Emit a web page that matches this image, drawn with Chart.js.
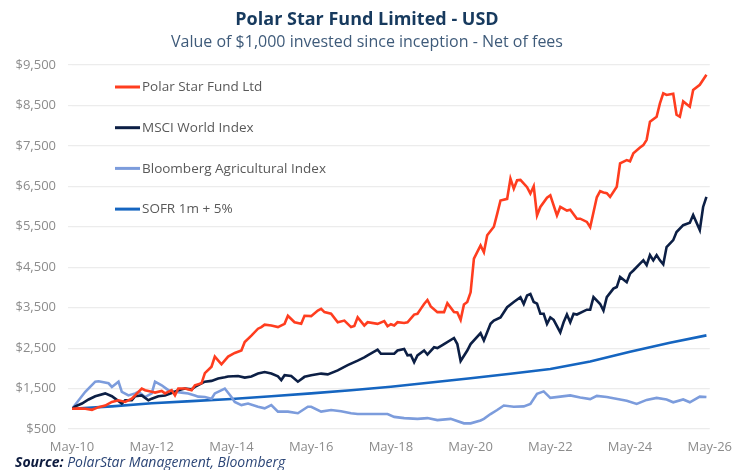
<!DOCTYPE html>
<html lang="en">
<head>
  <meta charset="UTF-8">
  <title>Polar Star Fund Limited - USD</title>
  <script src="https://cdn.jsdelivr.net/npm/chart.js"></script>
  <style>
    html, body { margin: 0; padding: 0; background: #fff; }
    #wrap { width: 742px; height: 470px; position: relative; }
  </style>
</head>
<body>
  <div id="wrap">
    <canvas id="fundChart" width="742" height="470"></canvas>
  </div>

  <script>
    // x axis: months since May-10, labels every 2 years
    const tickLabels = ['May-10', 'May-12', 'May-14', 'May-16', 'May-18', 'May-20', 'May-22', 'May-24', 'May-26'];

    const polarMonths = [0, 2, 4, 6, 8, 10, 12, 14, 16, 18, 19, 21, 22, 24, 25, 27, 28, 30, 31, 32, 34, 36, 37, 39, 40, 42, 43, 45, 47, 49, 51, 52, 54, 56, 57, 58, 60, 62, 64, 65, 67, 69, 70, 72, 74, 75, 76, 78, 80, 82, 84, 85, 86, 88, 89, 92, 94, 95, 96, 97, 98, 100, 101, 103, 104, 105, 106, 107, 108, 110, 112, 113, 115, 116, 117, 118, 119, 120, 121, 123, 124, 125, 127, 128, 129, 131, 132, 133, 134, 135, 137, 138, 139, 140, 141, 143, 144, 146, 147, 149, 150, 152, 153, 155, 156, 158, 159, 160, 161, 162, 164, 165, 167, 168, 169, 171, 172, 173, 174, 176, 177, 178, 179, 181, 182, 183, 184, 186, 187, 189, 191];
    const polarValues = [1000, 1010, 1000, 975, 1040, 1080, 1170, 1210, 1170, 1250, 1330, 1500, 1460, 1420, 1400, 1440, 1380, 1460, 1330, 1500, 1500, 1460, 1580, 1630, 1880, 2040, 2290, 2100, 2290, 2380, 2440, 2650, 2810, 2980, 3020, 3080, 3060, 3020, 3100, 3300, 3140, 3100, 3300, 3290, 3430, 3470, 3390, 3350, 3140, 3180, 3020, 3050, 3260, 3060, 3140, 3100, 3170, 3040, 3090, 3060, 3140, 3120, 3140, 3330, 3350, 3470, 3590, 3690, 3530, 3390, 3390, 3610, 3390, 3380, 3200, 3580, 3640, 3880, 4710, 5040, 4870, 5290, 5500, 5820, 6150, 6190, 6690, 6440, 6650, 6660, 6480, 6320, 6500, 5780, 5990, 6220, 6280, 5780, 5990, 5900, 5920, 5700, 5700, 5620, 5490, 6230, 6380, 6350, 6330, 6240, 6490, 7070, 7150, 7120, 7320, 7460, 7520, 7650, 8100, 8220, 8550, 8800, 8760, 8790, 8270, 8220, 8600, 8470, 8880, 9010, 9260];

    const msciMonths = [0, 1, 3, 5, 7, 10, 12, 13, 15, 16, 18, 19, 21, 23, 24, 26, 28, 31, 32, 34, 36, 37, 39, 40, 42, 44, 46, 47, 50, 52, 54, 56, 58, 60, 62, 63, 64, 66, 68, 70, 72, 75, 77, 80, 83, 86, 88, 89, 92, 93, 95, 97, 98, 100, 101, 102, 103, 104, 106, 107, 109, 110, 112, 115, 116, 117, 119, 120, 123, 124, 126, 127, 129, 131, 133, 135, 136, 137, 138, 139, 140, 141, 142, 143, 144, 145, 147, 148, 149, 150, 151, 152, 155, 156, 157, 159, 160, 161, 163, 164, 165, 167, 168, 169, 171, 172, 173, 174, 175, 176, 177, 178, 179, 181, 182, 184, 186, 187, 189, 190, 191];
    const msciValues = [1000, 1060, 1130, 1230, 1310, 1380, 1310, 1250, 1130, 1210, 1210, 1310, 1330, 1210, 1250, 1310, 1330, 1420, 1460, 1500, 1480, 1540, 1630, 1670, 1690, 1750, 1780, 1800, 1810, 1770, 1800, 1870, 1910, 1870, 1800, 1710, 1830, 1810, 1670, 1790, 1830, 1870, 1850, 1950, 2080, 2190, 2270, 2320, 2460, 2360, 2360, 2360, 2440, 2480, 2320, 2330, 2150, 2320, 2440, 2340, 2520, 2500, 2600, 2750, 2600, 2180, 2440, 2600, 2870, 2690, 3100, 3180, 3260, 3510, 3640, 3760, 3590, 3800, 3840, 3640, 3600, 3350, 3350, 3100, 3260, 3200, 2890, 3140, 3330, 3140, 3350, 3330, 3450, 3450, 3760, 3590, 3430, 3760, 3970, 4010, 4260, 4130, 4340, 4420, 4590, 4670, 4550, 4800, 4670, 4800, 4670, 4570, 5000, 5170, 5370, 5540, 5600, 5790, 5420, 5990, 6240];

    const bbgMonths = [0, 4, 7, 8, 11, 12, 14, 15, 17, 19, 20, 22, 24, 25, 27, 29, 31, 33, 35, 37, 38, 40, 42, 43, 46, 48, 49, 51, 53, 56, 58, 60, 62, 65, 68, 71, 72, 75, 78, 81, 84, 86, 92, 95, 97, 100, 104, 107, 110, 114, 118, 120, 123, 124, 126, 128, 130, 133, 136, 138, 140, 142, 144, 147, 150, 153, 156, 158, 161, 163, 167, 170, 173, 176, 179, 181, 184, 186, 189, 191];
    const bbgValues = [1000, 1420, 1670, 1680, 1630, 1540, 1670, 1420, 1330, 1380, 1420, 1290, 1380, 1670, 1580, 1460, 1420, 1400, 1380, 1330, 1300, 1290, 1250, 1380, 1500, 1290, 1170, 1090, 1130, 1050, 1010, 1090, 930, 930, 890, 1050, 1050, 930, 970, 940, 890, 870, 870, 870, 800, 770, 750, 770, 720, 750, 640, 640, 710, 750, 870, 970, 1080, 1050, 1060, 1120, 1370, 1430, 1270, 1300, 1330, 1280, 1240, 1320, 1290, 1260, 1200, 1120, 1220, 1270, 1230, 1160, 1230, 1160, 1300, 1290];

    const sofrMonths = [0, 12, 24, 36, 48, 60, 72, 84, 96, 108, 120, 132, 144, 156, 168, 180, 191];
    const sofrValues = [1000, 1060, 1135, 1190, 1240, 1310, 1380, 1460, 1545, 1650, 1755, 1865, 1985, 2170, 2410, 2630, 2815];

    const toPoints = (months, values) => months.map((m, i) => ({ x: m, y: values[i] }));

    const FONT = "'Open Sans', sans-serif";

    // legend drawn inside the plot + title/subtitle/source text
    const decorations = {
      id: 'decorations',
      afterDraw(chart) {
        const ctx = chart.ctx;
        const area = chart.chartArea;
        ctx.save();

        // legend
        ctx.textBaseline = 'middle';
        ctx.textAlign = 'left';
        ctx.font = '13.5px ' + FONT;
        chart.data.datasets.forEach((ds, i) => {
          const y = area.top + 22 + i * 40.7;
          ctx.strokeStyle = ds.borderColor;
          ctx.lineWidth = 3;
          ctx.beginPath();
          ctx.moveTo(115, y);
          ctx.lineTo(140, y);
          ctx.stroke();
          ctx.fillStyle = '#595959';
          ctx.fillText(ds.label, 142, y + 0.5);
        });

        // title + subtitle
        ctx.textAlign = 'center';
        ctx.fillStyle = '#173a5e';
        ctx.font = 'bold 18px ' + FONT;
        ctx.fillText('Polar Star Fund Limited - USD', 367, 20);
        ctx.fillStyle = '#3f5b7a';
        ctx.font = '16px ' + FONT;
        ctx.fillText('Value of $1,000 invested since inception - Net of fees', 367, 42);

        // source
        ctx.textAlign = 'left';
        ctx.fillStyle = '#0d1b3e';
        ctx.font = 'italic bold 14px ' + FONT;
        ctx.fillText('Source:', 15, 463);
        const w = ctx.measureText('Source: ').width;
        ctx.fillStyle = '#2c4677';
        ctx.font = 'italic 14px ' + FONT;
        ctx.fillText('PolarStar Management, Bloomberg', 15 + w, 463);

        ctx.restore();
      }
    };

    const ctxFund = document.getElementById('fundChart').getContext('2d');

    const fundChart = new Chart(ctxFund, {
      type: 'line',
      data: {
        datasets: [
          { label: 'Polar Star Fund Ltd', data: toPoints(polarMonths, polarValues), borderColor: '#ff3d1f' },
          { label: 'MSCI World Index', data: toPoints(msciMonths, msciValues), borderColor: '#0c1f45' },
          { label: 'Bloomberg Agricultural Index', data: toPoints(bbgMonths, bbgValues), borderColor: '#7c9cdc' },
          { label: 'SOFR 1m + 5%', data: toPoints(sofrMonths, sofrValues), borderColor: '#1565c0' }
        ].map(ds => Object.assign(ds, { borderWidth: 2.6, pointRadius: 0, tension: 0, fill: false }))
      },
      options: {
        responsive: false,
        animation: false,
        layout: { padding: { left: 0, right: 25, top: 65, bottom: 0 } },
        plugins: {
          legend: { display: false },
          title: { display: false },
          tooltip: { enabled: false }
        },
        scales: {
          x: {
            type: 'linear',
            min: 0,
            max: 192,
            grid: { display: false, drawTicks: false },
            border: { display: false },
            ticks: {
              stepSize: 24,
              autoSkip: false,
              maxRotation: 0,
              padding: 10,
              color: '#8c8c8c',
              font: { family: FONT, size: 13 },
              callback: v => tickLabels[v / 24]
            },
            afterFit: scale => { scale.height = 41; }
          },
          y: {
            min: 500,
            max: 9500,
            grid: { color: '#ececec', lineWidth: 1.2, tickLength: 4 },
            border: { display: false },
            ticks: {
              stepSize: 1000,
              padding: 12,
              color: '#8c8c8c',
              font: { family: FONT, size: 13 },
              callback: v => '$' + v.toLocaleString('en-US')
            },
            afterFit: scale => { scale.width = 72; }
          }
        }
      },
      plugins: [decorations]
    });
  </script>
</body>
</html>
